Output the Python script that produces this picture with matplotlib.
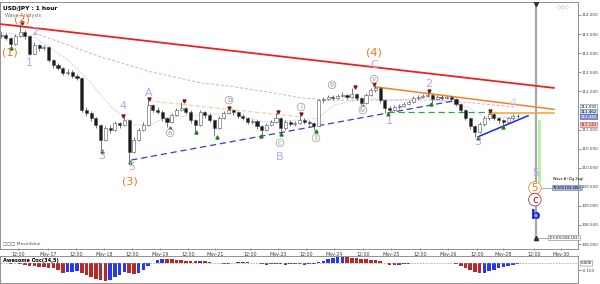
import numpy as np
import matplotlib
matplotlib.use('Agg')
import matplotlib.pyplot as plt
from matplotlib.ticker import FormatStrFormatter

# 2-hour candles, x in hours from the first bar
closes = [113.48, 113.40, 113.25, 113.45, 113.56, 113.45, 112.98, 113.21, 113.14, 113.16,
          112.82, 112.69, 112.61, 112.48, 112.51, 112.40, 112.35, 111.51, 111.43, 111.30,
          111.12, 110.73, 111.04, 110.99, 111.17, 111.12, 111.25, 110.41, 110.73, 110.99,
          111.12, 111.64, 111.51, 111.46, 111.30, 111.20, 111.38, 111.51, 111.57, 111.46,
          111.25, 111.12, 111.46, 111.38, 111.25, 111.04, 111.30, 111.43, 111.51, 111.46,
          111.35, 111.30, 111.20, 111.22, 111.09, 110.99, 111.12, 111.20, 111.30, 111.04,
          111.20, 111.15, 111.17, 111.25, 111.20, 111.17, 111.09, 111.77, 111.80, 111.85,
          111.83, 111.88, 111.91, 111.85, 111.93, 111.83, 111.70, 111.91, 112.04, 112.09,
          111.77, 111.57, 111.51, 111.59, 111.62, 111.67, 111.72, 111.83, 111.85, 111.88,
          111.91, 111.80, 111.85, 111.83, 111.85, 111.80, 111.67, 111.51, 111.30, 111.09,
          110.94, 111.15, 111.30, 111.41, 111.30, 111.25, 111.20, 111.30, 111.35, 111.35]
highs = [113.55, 113.52, 113.42, 113.50, 113.76, 113.60, 113.47, 113.29, 113.25, 113.22,
         113.18, 112.86, 112.74, 112.64, 112.58, 112.55, 112.46, 112.37, 111.58, 111.48,
         111.34, 111.15, 111.10, 111.12, 111.22, 111.20, 111.33, 111.27, 110.80, 111.05,
         111.20, 111.77, 111.68, 111.58, 111.50, 111.33, 111.42, 111.56, 111.72, 111.60,
         111.50, 111.28, 111.51, 111.49, 111.42, 111.28, 111.35, 111.48, 111.54, 111.53,
         111.49, 111.40, 111.33, 111.28, 111.25, 111.12, 111.18, 111.26, 111.43, 111.32,
         111.25, 111.24, 111.22, 111.38, 111.30, 111.24, 111.20, 111.80, 111.86, 111.90,
         111.90, 111.93, 111.98, 111.94, 112.09, 111.96, 111.85, 111.95, 112.10, 112.17,
         112.11, 111.80, 111.62, 111.65, 111.68, 111.72, 111.78, 111.88, 111.91, 111.94,
         111.98, 111.93, 111.90, 111.90, 111.89, 111.88, 111.82, 111.70, 111.54, 111.33,
         111.12, 111.20, 111.35, 111.46, 111.43, 111.34, 111.28, 111.34, 111.40, 111.40]
lows = [113.40, 113.35, 113.16, 113.22, 113.42, 113.38, 112.96, 112.98, 113.05, 113.08,
        112.78, 112.62, 112.55, 112.42, 112.44, 112.36, 112.30, 111.45, 111.35, 111.22,
        111.05, 110.47, 110.70, 110.92, 110.95, 111.05, 111.08, 110.18, 110.38, 110.70,
        110.95, 111.10, 111.45, 111.40, 111.22, 111.07, 111.18, 111.35, 111.48, 111.40,
        111.18, 110.96, 111.10, 111.30, 111.20, 110.83, 111.02, 111.28, 111.40, 111.38,
        111.30, 111.24, 111.15, 111.14, 111.02, 110.86, 110.96, 111.10, 111.18, 110.91,
        111.00, 111.10, 111.10, 111.14, 111.15, 111.10, 110.99, 111.08, 111.70, 111.76,
        111.78, 111.80, 111.84, 111.80, 111.83, 111.78, 111.64, 111.68, 111.88, 111.98,
        111.70, 111.43, 111.45, 111.48, 111.55, 111.58, 111.64, 111.70, 111.78, 111.82,
        111.84, 111.70, 111.76, 111.78, 111.79, 111.74, 111.62, 111.46, 111.25, 111.02,
        110.81, 110.90, 111.10, 111.26, 111.24, 111.18, 111.09, 111.16, 111.26, 111.30]
first_open = 113.45

awesome_osc = [0.01, 0.005, -0.005, 0.0, -0.01, -0.02, -0.03, -0.04, -0.045, -0.05,
               -0.06, -0.07, -0.09, -0.13, -0.125, -0.12, -0.115, -0.14, -0.17, -0.19,
               -0.22, -0.24, -0.25, -0.23, -0.20, -0.16, -0.12, -0.13, -0.15, -0.13,
               -0.09, -0.04, 0.01, 0.05, 0.07, 0.065, 0.06, 0.05, 0.045, 0.04,
               0.035, 0.03, 0.035, 0.03, 0.02, 0.01, 0.0, -0.01, -0.005, 0.01,
               0.02, 0.025, 0.02, 0.01, 0.0, -0.01, -0.015, -0.01, -0.005, -0.01,
               -0.015, -0.01, -0.005, -0.01, -0.015, -0.01, -0.005, 0.02, 0.04, 0.06,
               0.08, 0.09, 0.095, 0.09, 0.085, 0.075, 0.065, 0.06, 0.055, 0.05,
               0.035, 0.01, -0.015, -0.02, -0.015, -0.01, -0.005, 0.0, 0.005, 0.01,
               0.012, 0.01, 0.012, 0.01, 0.005, 0.0, -0.01, -0.03, -0.06, -0.09,
               -0.12, -0.14, -0.13, -0.11, -0.09, -0.07, -0.05, -0.035, -0.02, -0.01]

# moving averages
ma_slow_h = [13.9, 42.2, 63.3, 84.4, 98.3, 112.7, 126.6, 138.0, 168.8, 182.7, 198.3, 216.5]
ma_slow_p = [113.53, 112.90, 112.51, 112.22, 112.12, 111.98, 111.83, 111.77, 111.77, 111.77, 111.70, 111.59]
ma_fast_h = [0, 13.9, 28.3, 36.7, 46.4, 56.1, 63.3, 68.8, 83.1, 97.0, 111.0, 125.3, 133.8,
             140.5, 154.9, 163.3, 181.4, 197.0, 203.8, 218.1]
ma_fast_p = [113.55, 113.42, 112.82, 112.30, 111.59, 111.12, 111.12, 111.30, 111.38, 111.43,
             111.20, 111.25, 111.30, 111.64, 111.83, 111.77, 111.83, 111.59, 111.33, 111.30]

# swing markers
swing_hi_h = [8.9, 51.5, 62.4, 77.2, 96.2, 116.9, 126.6, 149.4, 157.4, 180.6, 206.3]
swing_hi_p = [113.76, 111.33, 111.77, 111.72, 111.54, 111.43, 111.38, 112.09, 112.17, 111.98, 111.46]
swing_lo_h = [4.2, 42.6, 54.4, 71.3, 82.3, 91.1, 109.7, 118.1, 132.9, 152.7, 163.3, 181.4, 201.3, 211.8]
swing_lo_p = [113.16, 110.47, 110.18, 111.07, 110.96, 110.83, 110.86, 110.91, 110.99, 111.64,
              111.43, 111.70, 110.81, 111.09]

# wave labels: text, hour, price, colour, circled
waves = [("(1)", 3.8, 113.03, "orange", False), ("(2)", 8.9, 113.88, "orange", False),
         ("2", 14.3, 113.55, "purple", False), ("1", 11.8, 112.74, "purple", False),
         ("3", 42.6, 110.31, "purple", False), ("4", 51.5, 111.62, "purple", False),
         ("5", 54.9, 110.02, "purple", False), ("(3)", 54.4, 109.63, "orange", False),
         ("A", 62.4, 111.96, "purple", False), ("a", 71.3, 110.91, "gray", True),
         ("b", 96.2, 111.77, "gray", True), ("c", 117.7, 110.65, "gray", True),
         ("B", 117.7, 110.28, "purple", False), ("i", 126.6, 111.59, "gray", True),
         ("ii", 132.9, 110.78, "gray", True), ("iii", 139.7, 112.17, "gray", True),
         ("iv", 152.7, 111.51, "gray", True), ("v", 157.4, 112.32, "gray", True),
         ("C", 157.4, 112.69, "purple", False), ("(4)", 157.4, 113.03, "orange", False),
         ("1", 163.7, 111.23, "purple", False), ("2", 180.6, 112.19, "purple", False),
         ("3", 201.3, 110.68, "purple", False), ("4", 216.0, 111.70, "lightpurple", False),
         ("5", 225.7, 109.86, "purple", False), ("5", 225.3, 109.47, "orange", True),
         ("c", 225.3, 109.16, "darkred", True), ("b", 225.7, 108.76, "blue", False)]

tick_labels = ['12:00', 'May-17', '12:00', 'May-18', '12:00', 'May-19', '12:00', 'May-21',
               '12:00', 'May-23', '12:00', 'May-24', '12:00', 'May-25', '12:00', 'May-26',
               '12:00', 'May-28', '12:00', 'May-30']
tick_px = [17, 47, 75, 103, 131, 159, 187, 214, 249, 277, 305, 333, 362, 390, 419, 447,
           476, 502, 533, 560]
px_per_hour = 2.37
tick_hours = [p / px_per_hour for p in tick_px]

colors = {"orange": "#f07818", "purple": "#c49cf0", "gray": "#9a9a9a",
          "lightpurple": "#dcc8f6", "darkred": "#a01818", "blue": "#1020e0"}

n = len(closes)
hours = np.arange(n) * 2.0
opens = [first_open] + closes[:-1]

fig = plt.figure(figsize=(6, 2.84), dpi=100)
ax = fig.add_axes([0, 1 - 249 / 284, 578 / 600, 247 / 284])
axo = fig.add_axes([0, 1 - 283 / 284, 578 / 600, 27 / 284], sharex=ax)

# trendlines
ax.plot([0, 233.3], [113.76, 112.09], color='#f02020', lw=1.3, zorder=3)
ax.plot([157.4, 233.3], [112.12, 111.53], color='#f58220', lw=1.1, zorder=3)
ax.plot([206.3, 233.3], [111.42, 111.42], color='#f8a030', lw=1.1, zorder=3)
ax.plot([62.4, 126.6], [111.75, 111.33], color='#f8c8a0', lw=0.8, ls=(0, (4, 2)), zorder=2)
ax.plot([54.9, 192.8], [110.20, 111.77], color='#3040e0', lw=0.9, ls=(0, (5, 3)), zorder=3)
ax.plot([163.3, 206.8], [111.46, 111.46], color='#40a040', lw=0.9, ls=(0, (5, 3)), zorder=3)
ax.plot([201.3, 222.4], [110.81, 111.36], color='#1828e8', lw=1.1, zorder=3)
ax.plot(ma_slow_h, ma_slow_p, color='#dca8e0', lw=0.7, ls=(0, (3, 2)), zorder=1)
ax.plot(ma_fast_h, ma_fast_p, color='#a8c4f0', lw=0.6, ls=(0, (1, 1)), zorder=1)

# fib projection
ax.plot([225.7, 225.7], [108.16, 114.30], color='#a8a8a8', lw=1.6, zorder=2)
ax.plot([225.7], [114.30], marker='v', color='#303030', ms=3, zorder=4)
ax.plot([225.7], [108.16], marker='^', color='#303030', ms=3, zorder=4)
ax.fill_between([226.6, 227.9], 109.60, 111.25, color='#b8f0a8', lw=0, zorder=2)
ax.plot([225.7, 233.0], [109.47, 109.47], color='#a0a0a0', lw=0.6)
ax.plot([225.7, 231.2], [108.16, 108.16], color='#a0a0a0', lw=0.6)
ax.text(233.0, 109.47, '79.6%(109.486)', fontsize=2.5, va='center', ha='left',
        bbox=dict(boxstyle='round,pad=0.2', fc='#a8b4e4', ec='#7080c0', lw=0.4))
ax.text(231.2, 108.16, '100.0%(108.102)', fontsize=2.5, va='center', ha='left',
        bbox=dict(boxstyle='round,pad=0.2', fc='white', ec='#808080', lw=0.4))
ax.text(233.0, 109.70, 'Wave A (Zig Zag)', fontsize=2.5, va='center', ha='left')

# candles
for h, o, c, hi, lo in zip(hours, opens, closes, highs, lows):
    ax.vlines(h, lo, hi, color='#404040', lw=0.5, zorder=4)
    up = c >= o
    body = max(abs(c - o), 0.012)
    ax.bar(h, body, bottom=min(o, c), width=1.3, color='white' if up else '#1a1a1a',
           edgecolor='#505050', lw=0.4, zorder=5)

ax.plot(swing_hi_h, [p + 0.03 for p in swing_hi_p], 'v', color='#7a1a1a', ms=2.2, zorder=6)
ax.plot(swing_lo_h, [p - 0.03 for p in swing_lo_p], '^', color='#208020', ms=2.2, zorder=6)

for txt, h, p, col, circ in waves:
    c = colors[col]
    if circ:
        size = 5 if col == 'gray' else 7.5
        ax.text(h, p, txt, color=c, fontsize=size, ha='center', va='center', zorder=7,
                bbox=dict(boxstyle='circle,pad=0.12', fc='white', ec=c, lw=0.5))
    else:
        size = 9.5 if col == 'blue' else 8
        ax.text(h, p, txt, color=c, fontsize=size, ha='center', va='center', zorder=7,
                fontweight='bold' if col == 'blue' else 'normal')

# right price boxes
ytr = ax.get_yaxis_transform()
boxes = [(111.59, '111.592', 'white', '#6080c0', 'black'),
         (111.46, '111.462', '#c8e4f4', '#6090c0', 'black'),
         (111.33, '111.345', '#8c8cdc', '#5050a0', 'white'),
         (111.12, '111.142', '#f4c8c8', '#c06060', '#801010')]
for p, s, fc, ec, tc in boxes:
    ax.text(1.005, p, s, transform=ytr, fontsize=2.9, va='center', ha='left', color=tc,
            clip_on=False, bbox=dict(boxstyle='round,pad=0.15', fc=fc, ec=ec, lw=0.4))

ax.text(0.005, 0.985, 'USD/JPY : 1 hour', transform=ax.transAxes, fontsize=4.2,
        fontweight='bold', va='top')
ax.text(0.009, 0.955, 'Wave Analysis', transform=ax.transAxes, fontsize=3.6,
        color='#707070', va='top')
ax.text(0.005, 0.015, '\u25a1\u25a1\u25a1 MoveValue', transform=ax.transAxes, fontsize=3.2,
        color='#505050', va='bottom')
ax.text(0.985, 0.985, '\u25c7\u25c7\u25c7', transform=ax.transAxes, fontsize=4,
        color='#a0a0a0', va='top', ha='right')

ax.set_xlim(-0.5, 243.5)
ax.set_ylim(107.87, 114.34)
ax.yaxis.tick_right()
ax.set_yticks([108.0, 108.5, 109.0, 109.5, 110.0, 110.5, 111.0, 112.0, 112.5, 113.0, 113.5, 114.0])
ax.set_yticks(np.arange(108.0, 114.31, 0.1), minor=True)
ax.yaxis.set_major_formatter(FormatStrFormatter('%.3f'))
ax.tick_params(axis='y', labelsize=3.0, length=2, width=0.4, pad=0.6, colors='#404040')
ax.tick_params(axis='y', which='minor', length=1, width=0.3, colors='#606060')
ax.set_xticks(tick_hours, tick_labels)
ax.tick_params(axis='x', labelsize=3.4, length=2, width=0.4, pad=1.2, direction='inout',
               colors='#404040')
for s in ax.spines.values():
    s.set_color('#808080')
    s.set_linewidth(0.6)

# awesome oscillator
ao_cols = ['#2838f0' if (i > 0 and v > awesome_osc[i - 1]) else '#b82828'
           for i, v in enumerate(awesome_osc)]
axo.bar(hours, awesome_osc, width=1.5, color=ao_cols, lw=0)
axo.axhline(0, color='#909090', lw=0.5, ls=(0, (2, 2)))
axo.set_ylim(-0.28, 0.107)
axo.yaxis.tick_right()
axo.set_yticks([-0.1])
axo.yaxis.set_major_formatter(FormatStrFormatter('%.3f'))
axo.tick_params(axis='y', labelsize=3.0, length=2, width=0.4, pad=0.6, colors='#404040')
axo.tick_params(axis='x', bottom=False, labelbottom=False)
axo.text(1.005, 0.0, '0.000', transform=axo.get_yaxis_transform(), fontsize=2.9,
         va='center', ha='left', clip_on=False,
         bbox=dict(boxstyle='round,pad=0.15', fc='white', ec='#808080', lw=0.4))
axo.text(0.006, 0.93, 'Awesome Osc(34,5)', transform=axo.transAxes, fontsize=3.6,
         fontweight='bold', va='top')
for s in axo.spines.values():
    s.set_color('#808080')
    s.set_linewidth(0.6)

fig.savefig('out.png', dpi=100)
